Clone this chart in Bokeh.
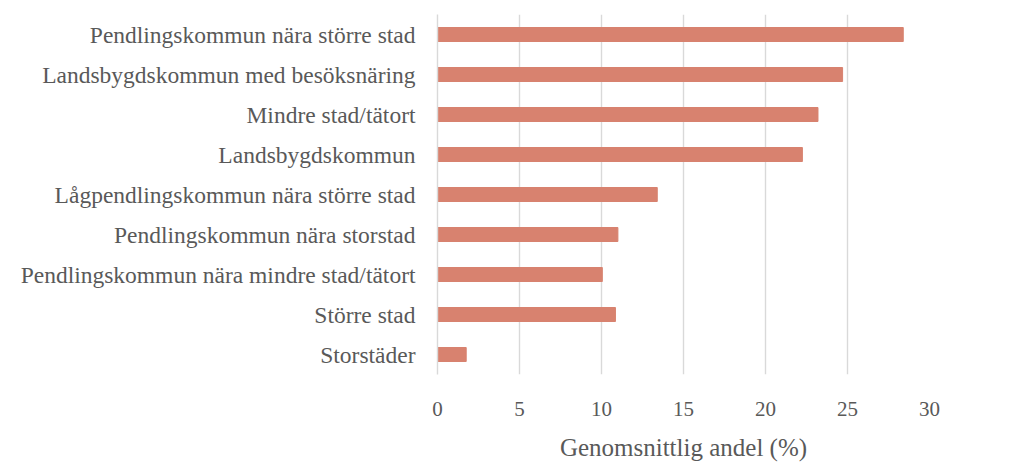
from bokeh.plotting import figure
from bokeh.models import FactorRange, Range1d, FixedTicker
from bokeh.embed import file_html
from bokeh.resources import INLINE

categories = [
    "Pendlingskommun nära större stad",
    "Landsbygdskommun med besöksnäring",
    "Mindre stad/tätort",
    "Landsbygdskommun",
    "Lågpendlingskommun nära större stad",
    "Pendlingskommun nära storstad",
    "Pendlingskommun nära mindre stad/tätort",
    "Större stad",
    "Storstäder",
]
values = [28.4, 24.7, 23.2, 22.25, 13.4, 11.0, 10.05, 10.85, 1.75]
x_ticks = [0, 5, 10, 15, 20, 25, 30]
x_label = "Genomsnittlig andel (%)"

FONT = "Liberation Serif"
TEXT = "#595959"

factors = list(reversed(categories))
p = figure(
    y_range=FactorRange(factors=factors, range_padding=0),
    x_range=Range1d(0, 30),
    frame_width=492, frame_height=360,
    min_border_left=437, min_border_top=14, min_border_right=70, min_border_bottom=66,
    output_backend="svg", toolbar_location=None,
)
p.hbar(y=categories, right=values, left=0, height=0.35, color="#D8826F")

p.outline_line_color = None
p.background_fill_color = "white"
p.ygrid.grid_line_color = None
p.xgrid.grid_line_color = "#D9D9D9"
p.xgrid.grid_line_width = 1.4
p.xaxis.ticker = FixedTicker(ticks=x_ticks)

p.yaxis.axis_line_color = "#D9D9D9"
p.yaxis.axis_line_width = 1.4
p.yaxis.major_tick_line_color = None
p.yaxis.minor_tick_line_color = None
p.yaxis.major_label_standoff = 16
p.yaxis.major_label_text_font = FONT
p.yaxis.major_label_text_font_size = "23.5px"
p.yaxis.major_label_text_color = TEXT

p.xaxis.axis_line_color = None
p.xaxis.major_tick_line_color = None
p.xaxis.minor_tick_line_color = None
p.xaxis.major_label_standoff = 21
p.xaxis.major_label_text_font = FONT
p.xaxis.major_label_text_font_size = "21px"
p.xaxis.major_label_text_color = TEXT
p.xaxis.axis_label = x_label
p.xaxis.axis_label_standoff = 15
p.xaxis.axis_label_text_font = FONT
p.xaxis.axis_label_text_font_size = "25px"
p.xaxis.axis_label_text_font_style = "normal"
p.xaxis.axis_label_text_color = TEXT

open("out.html", "w").write(file_html(p, INLINE))
